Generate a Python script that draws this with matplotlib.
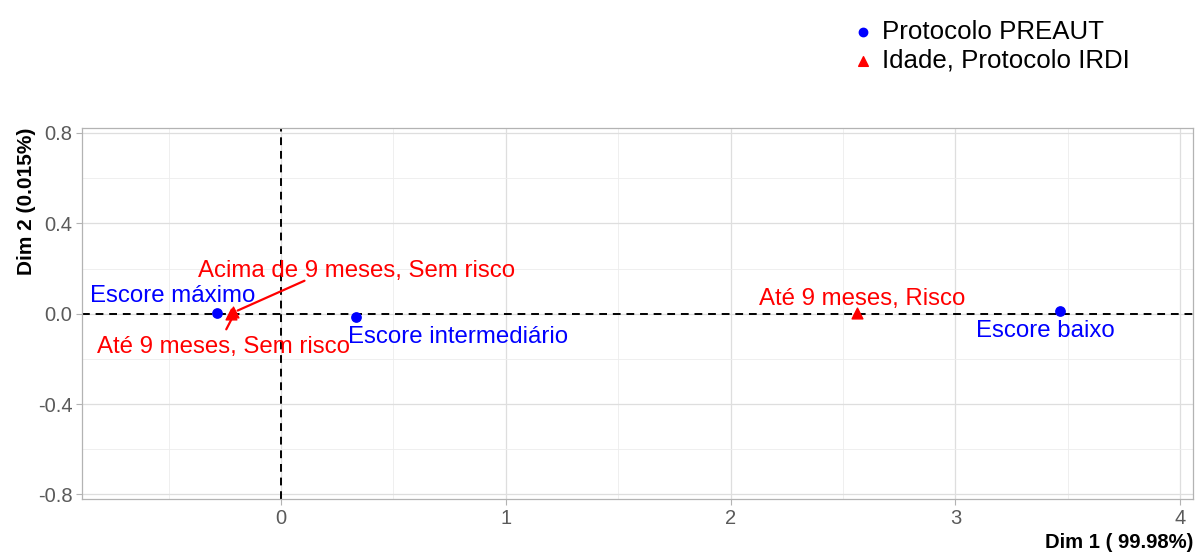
import matplotlib
matplotlib.use("Agg")
import matplotlib.pyplot as plt
from matplotlib.ticker import MultipleLocator

plt.rcParams['font.family'] = ['Liberation Sans', 'DejaVu Sans']

# Correspondence analysis coordinates
preaut_labels = ["Escore máximo", "Escore intermediário", "Escore baixo"]
preaut_x = [-0.285, 0.336, 3.465]
preaut_y = [0.004, -0.016, 0.014]

irdi_labels = ["Acima de 9 meses, Sem risco", "Até 9 meses, Sem risco", "Até 9 meses, Risco"]
irdi_x = [-0.214, -0.222, 2.561]
irdi_y = [0.009, 0.001, 0.002]

# label anchor positions (centre x, baseline y) in data units
preaut_label_x = [-0.480, 0.787, 3.399]
preaut_label_y = [0.053, -0.129, -0.102]
irdi_label_x = [0.338, -0.254, 2.585]
irdi_label_y = [0.164, -0.173, 0.040]

fig = plt.figure(figsize=(11.98, 5.52), dpi=100)
ax = fig.add_axes([82 / 1198, 1 - 499 / 552, (1193 - 82) / 1198, (499 - 128) / 552])

ax.set_xlim(-0.885, 4.057)
ax.set_ylim(-0.82, 0.822)

ax.xaxis.set_major_locator(MultipleLocator(1))
ax.xaxis.set_minor_locator(MultipleLocator(0.5))
ax.yaxis.set_major_locator(MultipleLocator(0.4))
ax.yaxis.set_minor_locator(MultipleLocator(0.2))
ax.yaxis.set_major_formatter(plt.FuncFormatter(lambda v, p: f"{v:.1f}"))
ax.xaxis.set_major_formatter(plt.FuncFormatter(lambda v, p: f"{v:.0f}"))

ax.grid(which='major', color='#DEDEDE', linewidth=0.9)
ax.grid(which='minor', color='#EDEDED', linewidth=0.6)
ax.set_axisbelow(True)
for s in ax.spines.values():
    s.set_color('#B3B3B3')
    s.set_linewidth(0.9)
ax.tick_params(which='major', color='#B3B3B3', length=4, labelsize=14.5,
               labelcolor='#5A5A5A', pad=3)
ax.tick_params(which='minor', length=0)

ax.axhline(0, color='black', linestyle=(0, (4, 3)), linewidth=1.4, zorder=2)
ax.axvline(0, color='black', linestyle=(0, (4, 3)), linewidth=1.4, zorder=2)

ax.scatter(preaut_x, preaut_y, color='#0000FF', marker='o', s=45, zorder=4,
           label='Protocolo PREAUT')
ax.scatter(irdi_x, irdi_y, color='#FF0000', marker='^', s=60, zorder=4,
           label='Idade, Protocolo IRDI')

for lab, x, y in zip(preaut_labels, preaut_label_x, preaut_label_y):
    ax.text(x, y, lab, color='#0000FF', fontsize=17.3, ha='center', va='baseline', zorder=5)

for lab, x, y in zip(irdi_labels, irdi_label_x, irdi_label_y):
    ax.text(x, y, lab, color='#FF0000', fontsize=17.3, ha='center', va='baseline', zorder=5)

# connector segments for the crowded labels
ax.annotate("", xy=(irdi_x[0] + 0.01, irdi_y[0]), xytext=(0.116, 0.151),
            arrowprops=dict(arrowstyle='-', color='#FF0000', lw=1.6), zorder=5)
ax.annotate("", xy=(irdi_x[1] + 0.008, irdi_y[1] - 0.014), xytext=(-0.249, -0.08),
            arrowprops=dict(arrowstyle='-', color='#FF0000', lw=1.6), zorder=5)

ax.set_xlabel("Dim 1 ( 99.98%)", fontsize=14.6, fontweight='bold', loc='right', labelpad=4)
ax.set_ylabel("Dim 2 (0.015%)", fontsize=15, fontweight='bold', loc='top', labelpad=1)

fig.legend(loc='upper left', bbox_to_anchor=(850 / 1198, 1 - 20 / 552), frameon=False,
           fontsize=18.6, handletextpad=0.25, labelspacing=0.17, handlelength=1.0,
           markerscale=0.9, borderpad=0, borderaxespad=0)

fig.savefig("out.png", dpi=100)
